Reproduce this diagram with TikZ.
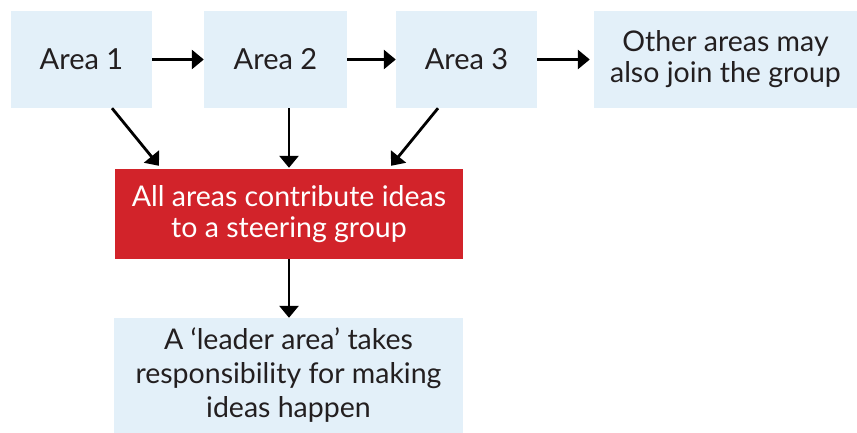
\documentclass[tikz,border=0pt]{standalone}
\usepackage{fontspec}
\setmainfont{Lato}
\usetikzlibrary{arrows.meta,calc}
\definecolor{boxblue}{HTML}{E3F0F9}
\definecolor{boxred}{HTML}{D2232A}
\definecolor{ink}{HTML}{231F20}
\begin{document}
\begin{tikzpicture}[x=1pt,y=-1pt,
  blk/.style={fill=boxblue, draw=none, inner sep=0pt, align=center, text=ink},
  redblk/.style={fill=boxred, draw=none, inner sep=0pt, align=center, text=white},
  big/.style={font=\fontsize{29}{31}\selectfont},
  txt/.style={font=\fontsize{28.5}{31}\selectfont},
  arr/.style={-{Triangle[length=12pt,width=19pt]}, line width=2.8pt, black}]
\useasboundingbox (0,0) rectangle (857,433);
\node[blk, big, minimum width=141pt, minimum height=97pt] (a1) at (81.5,59.5) {Area 1};
\node[blk, big, minimum width=143pt, minimum height=97pt] (a2) at (275.5,59.5) {Area 2};
\node[blk, big, minimum width=141pt, minimum height=97pt] (a3) at (466.5,59.5) {Area 3};
\node[blk, txt, minimum width=263pt, minimum height=97pt] (oth) at (725.5,59.5) {Other areas may\\also join the group};
\node[redblk, txt, minimum width=348pt, minimum height=90pt] (red) at (289,214) {All areas contribute ideas\\to a steering group};
\node[blk, minimum width=349pt, minimum height=115pt, font=\fontsize{28.5}{34}\selectfont] (lead) at (288.5,375.5) {A ‘leader area’ takes\\responsibility for making\\ideas happen};
\draw[arr] (a1.east) -- (a2.west);
\draw[arr] (a2.east) -- (a3.west);
\draw[arr] (a3.east) -- ($(oth.west)+(-4,0)$);
\draw[arr] ($(a1.south)+(30.5,0)$) -- ($(red.north)+(-130,-3)$);
\draw[arr] ($(a2.south)+(13.5,0)$) -- ($(red.north)+(0,-1)$);
\draw[arr] ($(a3.south)+(-28.5,0)$) -- ($(red.north)+(102,-3)$);
\draw[arr] (red.south) -- ($(lead.north)+(0.5,0)$);
\end{tikzpicture}
\end{document}
